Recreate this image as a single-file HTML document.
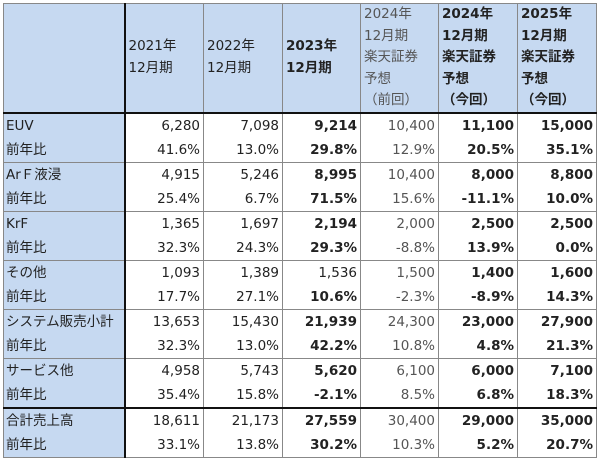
<!DOCTYPE html>
<html><head><meta charset="utf-8"><style>
html,body{margin:0;padding:0;background:#fff;width:600px;height:461px;overflow:hidden}
table{position:absolute;left:3px;top:3px;border-collapse:collapse;table-layout:fixed;font-family:"DejaVu Sans","Noto Sans CJK JP",sans-serif;font-size:13.5px;color:#222}
td{padding:0 3px;border-left:1px solid #888;border-right:1px solid #888;white-space:nowrap;height:24px;line-height:24px;text-align:right;overflow:hidden}
td.l{background:#c6d9f1;text-align:left;border-right:2px solid #111;padding-left:2px}
tr.h td{background:#c6d9f1;height:104px;text-align:left;line-height:21.5px;vertical-align:middle;border-bottom:2.5px solid #111}
tr.h td.top{vertical-align:top;padding-top:0}
tr.g td{border-top:1px solid #888}
tr.tot td{border-top:2.5px solid #111}
tr.last td{border-bottom:1px solid #888}
.b{font-weight:bold}
.gr{color:#555}
table{border:1.5px solid #888}
</style></head><body>
<table>
<colgroup><col style="width:121px"><col style="width:79px"><col style="width:79px"><col style="width:78px"><col style="width:78px"><col style="width:79px"><col style="width:79px"></colgroup>
<tr class="h">
<td class="l"></td>
<td>2021年<br>12月期</td>
<td>2022年<br>12月期</td>
<td class="b">2023年<br>12月期</td>
<td class="top gr">2024年<br>12月期<br>楽天証券<br>予想<br>（前回）</td>
<td class="top b">2024年<br>12月期<br>楽天証券<br>予想<br>（今回）</td>
<td class="top b">2025年<br>12月期<br>楽天証券<br>予想<br>（今回）</td>
</tr>
<tr><td class="l">EUV</td><td>6,280</td><td>7,098</td><td class="b">9,214</td><td class="gr">10,400</td><td class="b">11,100</td><td class="b">15,000</td></tr>
<tr><td class="l">前年比</td><td>41.6%</td><td>13.0%</td><td class="b">29.8%</td><td class="gr">12.9%</td><td class="b">20.5%</td><td class="b">35.1%</td></tr>
<tr class="g"><td class="l">ArＦ液浸</td><td>4,915</td><td>5,246</td><td class="b">8,995</td><td class="gr">10,400</td><td class="b">8,000</td><td class="b">8,800</td></tr>
<tr><td class="l">前年比</td><td>25.4%</td><td>6.7%</td><td class="b">71.5%</td><td class="gr">15.6%</td><td class="b">-11.1%</td><td class="b">10.0%</td></tr>
<tr class="g"><td class="l">KrF</td><td>1,365</td><td>1,697</td><td class="b">2,194</td><td class="gr">2,000</td><td class="b">2,500</td><td class="b">2,500</td></tr>
<tr><td class="l">前年比</td><td>32.3%</td><td>24.3%</td><td class="b">29.3%</td><td class="gr">-8.8%</td><td class="b">13.9%</td><td class="b">0.0%</td></tr>
<tr class="g"><td class="l">その他</td><td>1,093</td><td>1,389</td><td>1,536</td><td class="gr">1,500</td><td class="b">1,400</td><td class="b">1,600</td></tr>
<tr><td class="l">前年比</td><td>17.7%</td><td>27.1%</td><td class="b">10.6%</td><td class="gr">-2.3%</td><td class="b">-8.9%</td><td class="b">14.3%</td></tr>
<tr class="g"><td class="l">システム販売小計</td><td>13,653</td><td>15,430</td><td class="b">21,939</td><td class="gr">24,300</td><td class="b">23,000</td><td class="b">27,900</td></tr>
<tr><td class="l">前年比</td><td>32.3%</td><td>13.0%</td><td class="b">42.2%</td><td class="gr">10.8%</td><td class="b">4.8%</td><td class="b">21.3%</td></tr>
<tr class="g"><td class="l">サービス他</td><td>4,958</td><td>5,743</td><td class="b">5,620</td><td class="gr">6,100</td><td class="b">6,000</td><td class="b">7,100</td></tr>
<tr><td class="l">前年比</td><td>35.4%</td><td>15.8%</td><td class="b">-2.1%</td><td class="gr">8.5%</td><td class="b">6.8%</td><td class="b">18.3%</td></tr>
<tr class="tot"><td class="l">合計売上高</td><td>18,611</td><td>21,173</td><td class="b">27,559</td><td class="gr">30,400</td><td class="b">29,000</td><td class="b">35,000</td></tr>
<tr class="last"><td class="l">前年比</td><td>33.1%</td><td>13.8%</td><td class="b">30.2%</td><td class="gr">10.3%</td><td class="b">5.2%</td><td class="b">20.7%</td></tr>
</table>
</body></html>
